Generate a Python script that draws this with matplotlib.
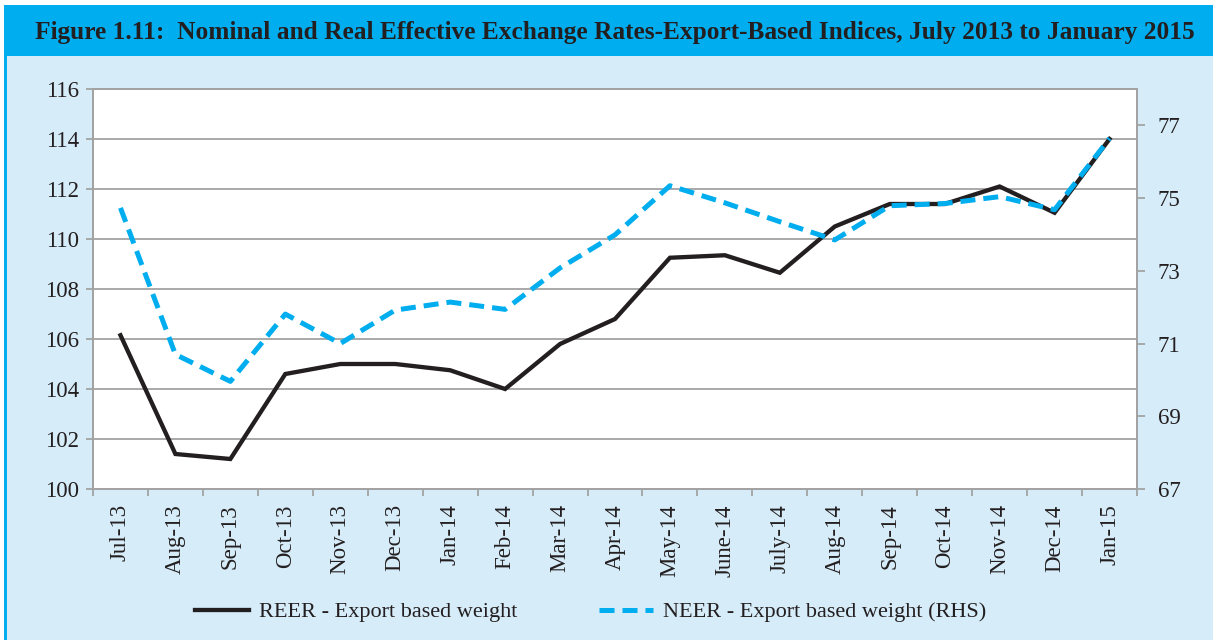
import matplotlib.pyplot as plt
from matplotlib.patches import Rectangle
import numpy as np

months = ['Jul-13', 'Aug-13', 'Sep-13', 'Oct-13', 'Nov-13', 'Dec-13', 'Jan-14',
          'Feb-14', 'Mar-14', 'Apr-14', 'May-14', 'June-14', 'July-14', 'Aug-14',
          'Sep-14', 'Oct-14', 'Nov-14', 'Dec-14', 'Jan-15']
reer = [106.15, 101.4, 101.2, 104.6, 105.0, 105.0, 104.75, 104.0, 105.8, 106.8,
        109.25, 109.35, 108.65, 110.5, 111.4, 111.4, 112.1, 111.05, 114.0]
neer = [74.73, 70.70, 69.96, 71.81, 71.0, 71.92, 72.14, 71.94, 73.08, 73.99,
        75.34, 74.87, 74.35, 73.85, 74.79, 74.85, 75.04, 74.68, 76.64]

left_ticks = list(range(100, 117, 2))
right_ticks = list(range(67, 78, 2))

plt.rcParams['font.family'] = ['Liberation Serif', 'DejaVu Serif']

bg = '#d6ecf9'
cyan = '#00aeef'
dark = '#231f20'
grey = '#a3a3a3'

fig = plt.figure(figsize=(12.13, 6.4), dpi=100)
fig.patch.set_facecolor('white')
# light blue panel, left border line and title bar
fig.patches.append(Rectangle((5 / 1213, 0), 1, 1 - 5 / 640, transform=fig.transFigure,
                             facecolor=bg, edgecolor='none', zorder=-3))
fig.patches.append(Rectangle((4 / 1213, 0), 3 / 1213, 1 - 5 / 640, transform=fig.transFigure,
                             facecolor=cyan, edgecolor='none', zorder=-2))
fig.patches.append(Rectangle((4 / 1213, 1 - 56 / 640), 1, 51 / 640, transform=fig.transFigure,
                             facecolor=cyan, edgecolor='none', zorder=-2))
fig.text(0.507, 1 - 32 / 640,
         'Figure 1.11:  Nominal and Real Effective Exchange Rates-Export-Based Indices, July 2013 to January 2015',
         ha='center', va='center', fontsize=18.3, fontweight='bold', color=dark)

ax = fig.add_axes([93 / 1213, 1 - 489 / 640, (1137 - 93) / 1213, 400 / 640])
ax.set_facecolor('white')
x = np.arange(len(months))

l1, = ax.plot(x, reer, color=dark, lw=3.1, solid_joinstyle='miter', zorder=3,
              label='REER - Export based weight')
ax.set_ylim(100, 116)
ax.set_yticks(left_ticks)
ax.set_xlim(-0.5, len(months) - 0.5)
ax.set_xticks(np.arange(-0.5, len(months), 1))
ax.set_xticklabels([])
ax.set_xticks(x, minor=True)
ax.set_xticklabels(months, minor=True, rotation=90, va='top', ha='center')
ax.tick_params(axis='x', which='minor', length=0, pad=11, labelsize=16.5, colors=dark)
ax.tick_params(axis='x', which='major', length=5, color=grey, width=1.3)
ax.tick_params(axis='y', length=5, color=grey, width=1.3, pad=5, labelsize=16.5, labelcolor=dark)
ax.grid(axis='y', color=grey, lw=1.3)
ax.set_axisbelow(True)
for s in ax.spines.values():
    s.set_color(grey)
    s.set_linewidth(1.3)

ax2 = ax.twinx()
l2, = ax2.plot(x, neer, color=cyan, lw=3.6, dashes=(3, 1.6), zorder=4,
               label='NEER - Export based weight (RHS)')
ax2.set_ylim(67, 78)
ax2.set_yticks(right_ticks)
ax2.tick_params(axis='y', length=6, color=grey, width=1.3, pad=9, labelsize=16.5, labelcolor=dark)
for s in ax2.spines.values():
    s.set_color(grey)
    s.set_linewidth(1.3)

fig.legend(handles=[l1, l2], loc='center', bbox_to_anchor=(0.487, 1 - 612 / 640), ncol=2,
           frameon=False, fontsize=16, handlelength=2.4, handletextpad=0.45,
           columnspacing=3.7, labelcolor=dark)

fig.savefig('out.png', dpi=100, facecolor=fig.get_facecolor())
